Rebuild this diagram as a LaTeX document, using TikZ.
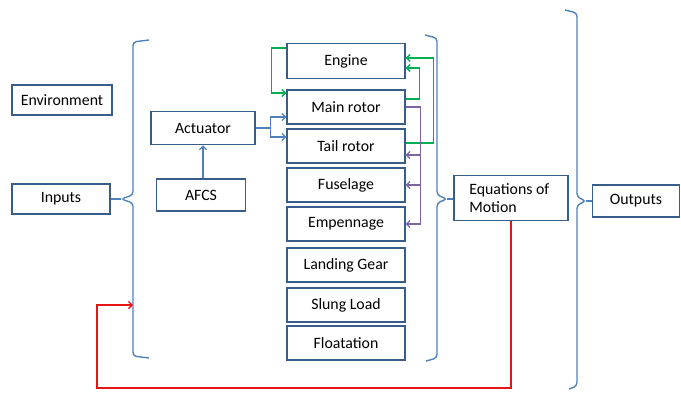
\documentclass[tikz,border=0pt]{standalone}
\usepackage{fontspec}
\setmainfont{Carlito}
\usetikzlibrary{arrows.meta}
\definecolor{boxline}{RGB}{56,93,138}
\definecolor{braceblue}{RGB}{79,129,189}
\definecolor{flowgreen}{RGB}{0,176,80}
\definecolor{flowpurple}{RGB}{128,100,162}
\definecolor{feedred}{RGB}{230,20,20}

\begin{document}
\begin{tikzpicture}[x=0.03cm,y=-0.03cm,>={Straight Barb[length=3pt,width=6pt]},
  font=\fontsize{13.5}{15.5}\selectfont,
  blk/.style={draw=boxline,line width=1.1pt,align=center,inner sep=2pt},
  part/.style={blk,minimum width=3.54cm,minimum height=1.02cm},
  brk/.style={draw=braceblue,line width=1.2pt,rounded corners=3pt},
  bflow/.style={->,draw=braceblue,line width=1.1pt},
  gflow/.style={->,draw=flowgreen,line width=1.2pt},
  pflow/.style={->,draw=flowpurple,line width=1.1pt},
  rflow/.style={->,draw=feedred,line width=1.2pt}]
\useasboundingbox (0,0) rectangle (681,392);

% left side
\node[blk,minimum width=3.0cm,minimum height=0.9cm] (env) at (62,100) {Environment};
\node[blk,minimum width=2.94cm,minimum height=0.9cm] (inp) at (61,199) {Inputs};
\node[blk,minimum width=3.12cm,minimum height=1.0cm] (act) at (203,128) {Actuator};
\node[blk,minimum width=2.67cm,minimum height=0.96cm] (afcs) at (201,195) {AFCS};

% component column
\node[part,minimum height=1.05cm] (eng) at (346,61) {Engine};
\node[part] (main) at (346,107) {Main rotor};
\node[part] (tail) at (346,146) {Tail rotor};
\node[part] (fus) at (346,185) {Fuselage};
\node[part] (emp) at (346,224) {Empennage};
\node[part] (lg) at (346,265) {Landing Gear};
\node[part] (sl) at (346,305) {Slung Load};
\node[part] (flt) at (346,343) {Floatation};

% right side
\node[blk,align=flush left,text width=2.5cm,inner xsep=0.46cm,minimum height=1.33cm] (eom) at (511,198) {Equations of\\Motion};
\node[blk,minimum width=2.61cm,minimum height=0.96cm] (out) at (636,201) {Outputs};

% brackets
\coordinate (lb) at (121,199);
\coordinate (lbin) at (133,305);
\coordinate (mb) at (447,199);
\coordinate (rb) at (586,201);
\draw[brk] (149,40) -- (133,42) -- (133,195) -- (lb) -- (133,203) -- (133,356) -- (149,358);
\draw[brk] (425,35) -- (437,38) -- (437,195) -- (mb) -- (437,203) -- (437,358) -- (426,361);
\draw[brk] (565,10) -- (577,13) -- (577,197) -- (rb) -- (577,205) -- (577,386) -- (569,389);
\draw[brk] (inp.east) -- (lb);
\draw[brk] (mb) -- (eom.west |- mb);
\draw[brk] (rb) -- (out.west |- rb);

% actuator links
\coordinate (split) at ([xshift=0.45cm]act.east);
\draw[bflow] (afcs.north -| act.south) -- (act.south);
\draw[bflow] (act.east) -- (split) |- ([yshift=-0.3cm]main.west);
\draw[bflow] (split) |- ([yshift=0.27cm]tail.west);

% engine / rotor links
\draw[gflow] ([yshift=0.39cm]eng.west) -- ++(-15,0) |- ([yshift=0.42cm]main.west);
\draw[gflow] ([yshift=0.24cm]main.east) -- ++(14,0) |- ([yshift=-0.21cm]eng.east);
\draw[gflow] ([yshift=0.09cm]tail.east) -- ++(28,0) |- ([yshift=0.09cm]eng.east);

% rotor wash
\coordinate (pv) at ([xshift=0.45cm]main.east);
\draw[pflow] (main.east) -- (pv) |- ([yshift=-0.27cm]tail.east);
\draw[pflow] (pv) |- (fus.east);
\draw[pflow] (pv) |- (emp.east);

% feedback
\draw[rflow] (eom.south) -- (eom.south |- 0,388) -| (97,305) -- (lbin);
\end{tikzpicture}
\end{document}
